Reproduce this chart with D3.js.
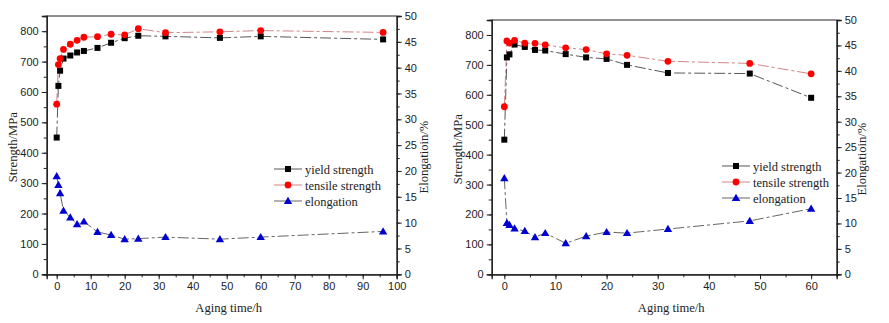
<!DOCTYPE html>
<html>
<head>
<meta charset="utf-8">
<script src="https://cdn.jsdelivr.net/npm/d3@7"></script>
<style>
  body { margin: 0; background: #fff; }
  svg { display: block; }
  .tick text { font-family: "Liberation Sans", Arial, sans-serif; font-size: 11px; fill: #222; }
  .domain, .tick line { stroke: #222; }
</style>
</head>
<body>
<script>
// aging series, panel A (0-96 h)
var timeA = [0, 0.5, 1, 2, 4, 6, 8, 12, 16, 20, 24, 32, 48, 60, 96];
var yieldA = [450, 620, 670, 710, 720, 730, 735, 745, 762, 777, 785, 783, 778, 783, 773];
var tensileA = [560, 690, 710, 740, 757, 770, 780, 782, 790, 788, 808, 795, 798, 802, 796];
var elongA = [19.0, 17.3, 15.7, 12.3, 11.0, 9.7, 10.2, 8.2, 7.6, 6.8, 6.9, 7.2, 6.8, 7.2, 8.3];

// aging series, panel B (0-60 h)
var timeB = [0, 0.5, 1, 2, 4, 6, 8, 12, 16, 20, 24, 32, 48, 60];
var yieldB = [450, 725, 735, 768, 760, 750, 748, 736, 725, 720, 700, 673, 671, 590];
var tensileB = [560, 780, 773, 782, 773, 772, 767, 757, 751, 737, 732, 712, 705, 670];
var elongB = [18.9, 10.1, 9.7, 9.0, 8.5, 7.3, 8.1, 6.1, 7.5, 8.3, 8.1, 8.9, 10.5, 12.9];

var legendNames = ["yield strength", "tensile strength", "elongation"];
var strengthTicks = [0, 100, 200, 300, 400, 500, 600, 700, 800];
var elongTicks = [0, 5, 10, 15, 20, 25, 30, 35, 40, 45, 50];

var SERIF = "'Liberation Serif', 'Times New Roman', 'DejaVu Serif', serif";
var W = 889, H = 323;
var svg = d3.select("body").append("svg").attr("width", W).attr("height", H);

function dashLine(g, pts, color) {
  g.append("path")
    .datum(pts)
    .attr("fill", "none")
    .attr("stroke", color)
    .attr("stroke-width", 0.9)
    .attr("stroke-dasharray", "11,3,3,3")
    .attr("d", d3.line().x(function(d) { return d[0]; }).y(function(d) { return d[1]; }));
}

function marker(g, type, x, y) {
  if (type == "square") {
    g.append("rect").attr("x", x - 3).attr("y", y - 3).attr("width", 6).attr("height", 6).attr("fill", "#000");
  } else if (type == "circle") {
    g.append("circle").attr("cx", x).attr("cy", y).attr("r", 3.4).attr("fill", "#f00");
  } else {
    g.append("path").attr("d", "M" + x + "," + (y - 4.2) + "L" + (x + 4.2) + "," + (y + 3) + "L" + (x - 4.2) + "," + (y + 3) + "Z").attr("fill", "#0000d0");
  }
}

function title(g, txt, size) {
  return g.append("text")
    .style("font-family", SERIF)
    .style("font-size", (size || 12.6) + "px")
    .attr("fill", "#222")
    .attr("text-anchor", "middle")
    .text(txt);
}

function drawPanel(p) {
  var x = d3.scaleLinear().domain(p.xDomain).range([p.left, p.right]);
  var yS = d3.scaleLinear().domain([0, 850]).range([p.bottom, p.top]);
  var yE = d3.scaleLinear().domain([0, 50]).range([p.bottom, p.top]);
  var g = svg.append("g");

  // frame top line
  g.append("line").attr("x1", p.left).attr("x2", p.right).attr("y1", p.top).attr("y2", p.top)
    .attr("stroke", "#222");

  // minor ticks first, then major with labels
  var minorX = d3.range(0, p.xDomain[1] + 0.1, 5);
  g.append("g").attr("transform", "translate(0," + p.bottom + ")")
    .call(d3.axisBottom(x).tickValues(minorX).tickSize(3).tickFormat(""));
  g.append("g").attr("transform", "translate(0," + p.bottom + ")")
    .call(d3.axisBottom(x).tickValues(p.xTicks).tickSize(5).tickPadding(3).tickFormat(d3.format("d")));

  g.append("g").attr("transform", "translate(" + p.left + ",0)")
    .call(d3.axisLeft(yS).tickValues(d3.range(0, 851, 50)).tickSize(3).tickFormat(""));
  g.append("g").attr("transform", "translate(" + p.left + ",0)")
    .call(d3.axisLeft(yS).tickValues(strengthTicks).tickSize(5).tickPadding(3));

  g.append("g").attr("transform", "translate(" + p.right + ",0)")
    .call(d3.axisRight(yE).tickValues(d3.range(0, 50.1, 2.5)).tickSize(3).tickFormat(""));
  g.append("g").attr("transform", "translate(" + p.right + ",0)")
    .call(d3.axisRight(yE).tickValues(elongTicks).tickSize(5).tickPadding(3));

  g.selectAll(".domain").attr("stroke-width", 1.3);

  // series
  var ys = p.time.map(function(t, i) { return [x(t), yS(p.yield[i])]; });
  var ts = p.time.map(function(t, i) { return [x(t), yS(p.tensile[i])]; });
  var es = p.time.map(function(t, i) { return [x(t), yE(p.elong[i])]; });
  dashLine(g, ys, "#444");
  dashLine(g, ts, "#c77");
  dashLine(g, es, "#555");
  ys.forEach(function(d) { marker(g, "square", d[0], d[1]); });
  ts.forEach(function(d) { marker(g, "circle", d[0], d[1]); });
  es.forEach(function(d) { marker(g, "triangle", d[0], d[1]); });

  // axis titles
  title(g, "Strength/MPa")
    .attr("transform", "translate(" + p.yTitleX + "," + ((p.top + p.bottom) / 2 + 2) + ") rotate(-90)");
  title(g, "Elongatioin/%")
    .attr("transform", "translate(" + p.eTitleX + "," + ((p.top + p.bottom) / 2 + 12) + ") rotate(-90)");
  title(g, "Aging time/h")
    .attr("x", (p.left + p.right) / 2 + 7).attr("y", 312);

  // legend
  var lg = g.append("g");
  var colors = ["#444", "#c77", "#555"];
  var types = ["square", "circle", "triangle"];
  legendNames.forEach(function(name, i) {
    var yy = p.legY + i * 16;
    lg.append("line").attr("x1", p.legX).attr("x2", p.legX + 28).attr("y1", yy).attr("y2", yy)
      .attr("stroke", colors[i]).attr("stroke-width", 0.9);
    marker(lg, types[i], p.legX + 14, yy);
    title(lg, name, 12.5).attr("text-anchor", "start")
      .attr("x", p.legX + 31).attr("y", yy + 4.5);
  });
}

drawPanel({
  left: 46.7, right: 396.7, top: 16, bottom: 274.3,
  xDomain: [-2.94, 100], xTicks: d3.range(0, 101, 10),
  time: timeA, yield: yieldA, tensile: tensileA, elong: elongA,
  yTitleX: 17, eTitleX: 428, legX: 274, legY: 169
});

drawPanel({
  left: 491.7, right: 836.7, top: 20, bottom: 274.3,
  xDomain: [-2.47, 65], xTicks: d3.range(0, 61, 10),
  time: timeB, yield: yieldB, tensile: tensileB, elong: elongB,
  yTitleX: 462, eTitleX: 866, legX: 722, legY: 166
});
</script>
</body>
</html>
